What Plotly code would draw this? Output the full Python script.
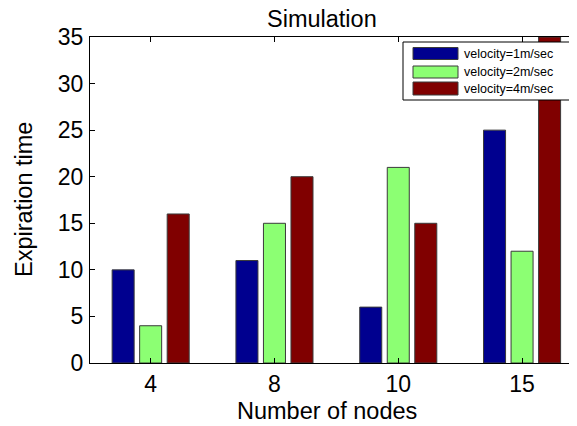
import plotly.graph_objects as go

categories = ["4", "8", "10", "15"]
series_names = ["velocity=1m/sec", "velocity=2m/sec", "velocity=4m/sec"]
v1 = [10, 11, 6, 25]
v2 = [4, 15, 21, 12]
v4 = [16, 20, 15, 35]
y_ticks = [0, 5, 10, 15, 20, 25, 30, 35]
title_text = "Simulation"
x_title = "Number of nodes"
y_title = "Expiration time"

colors = ["#00008F", "#8CFF73", "#800000"]
series = [v1, v2, v4]

OFF = 8  # page body margin
W, H = 577 - OFF, 426 - OFF
L, R, T, B = 90 - OFF, 0, 37 - OFF, 63
pw, ph = W - L - R, H - T - B
FONT = "Liberation Sans, Arial, sans-serif"

def px(xp):
    return (xp - OFF - L) / pw

def py(yp):
    return (H - B - (yp - OFF)) / ph

xpos = [1, 2, 3, 4]
fig = go.Figure()
for name, vals, col in zip(series_names, series, colors):
    fig.add_trace(go.Bar(
        x=xpos, y=vals, name=name, marker=dict(color=col, line=dict(color="#3a3a3a", width=1)),
        showlegend=False,
    ))

shapes = []
annotations = []
shapes.append(dict(type="rect", xref="paper", yref="paper",
                   x0=px(403), x1=px(575), y0=py(100), y1=py(42),
                   line=dict(color="black", width=1), fillcolor="white", layer="above"))
rows = [(47.5, 59.5), (66, 78), (82, 95)]
for (y0, y1), col, name in zip(rows, colors, series_names):
    shapes.append(dict(type="rect", xref="paper", yref="paper",
                       x0=px(413), x1=px(458), y0=py(y1), y1=py(y0),
                       line=dict(color="#3a3a3a", width=1), fillcolor=col, layer="above"))
    annotations.append(dict(xref="paper", yref="paper", x=px(462), y=py((y0 + y1) / 2),
                            text=name, showarrow=False, xanchor="left", yanchor="middle",
                            font=dict(family=FONT, size=12.5, color="black")))

annotations.append(dict(xref="paper", yref="paper", x=px(322), y=py(19), text=title_text,
                        showarrow=False, xanchor="center", yanchor="middle",
                        font=dict(family=FONT, size=23.5, color="black")))
annotations.append(dict(xref="paper", yref="paper", x=px(327), y=py(411), text=x_title,
                        showarrow=False, xanchor="center", yanchor="middle",
                        font=dict(family=FONT, size=23.5, color="black")))
annotations.append(dict(xref="paper", yref="paper", x=px(24), y=py(200), text=y_title,
                        showarrow=False, xanchor="center", yanchor="middle", textangle=-90,
                        font=dict(family=FONT, size=23.5, color="black")))

fig.update_layout(
    width=W, height=H,
    margin=dict(l=L, r=R, t=T, b=B, pad=0),
    paper_bgcolor="white", plot_bgcolor="white",
    barmode="group", bargap=0.333, bargroupgap=0.2,
    font=dict(family=FONT, size=23, color="black"),
    shapes=shapes, annotations=annotations,
)
fig.update_xaxes(
    range=[0.51, 0.51 + (pw) / 123.8],
    tickmode="array", tickvals=xpos, ticktext=categories,
    ticks="inside", ticklen=5, tickcolor="black",
    showline=True, linecolor="black", linewidth=1, mirror="ticks",
    showgrid=False, zeroline=False,
    tickfont=dict(family=FONT, size=23, color="black"),
)
fig.update_yaxes(
    range=[0, 35], tickmode="array", tickvals=y_ticks,
    ticks="inside", ticklen=5, tickcolor="black",
    showline=True, linecolor="black", linewidth=1, mirror=False,
    showgrid=False, zeroline=False,
    tickfont=dict(family=FONT, size=23, color="black"),
    ticklabelstandoff=1,
)

fig.write_html("out.html")
